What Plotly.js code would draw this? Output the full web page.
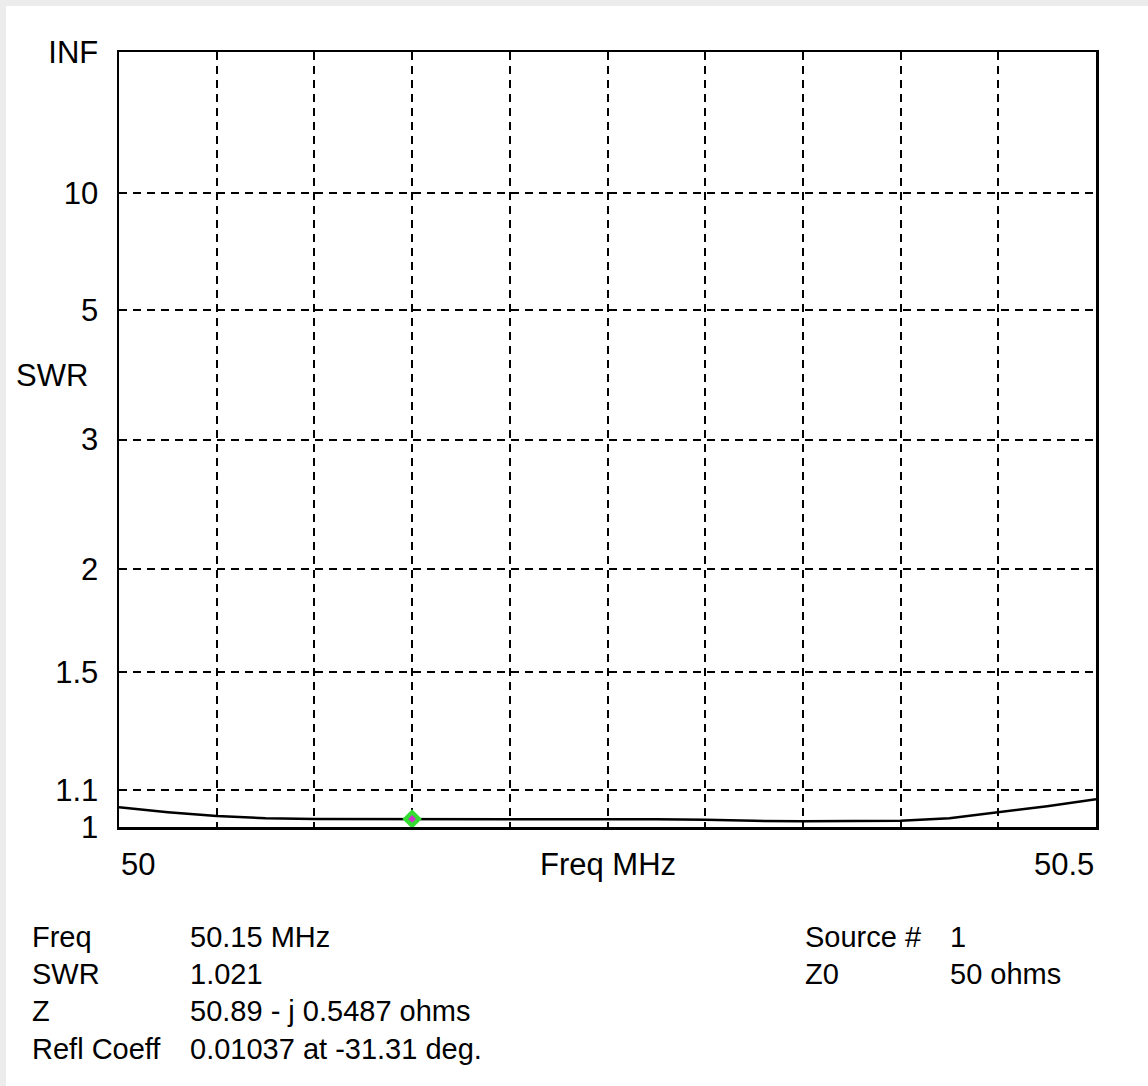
<!DOCTYPE html>
<html>
<head>
<meta charset="utf-8">
<script src="https://cdn.plot.ly/plotly-3.0.1.min.js"></script>
<style>
  html, body { margin: 0; padding: 0; background: #ffffff; }
  #chart { width: 1148px; height: 1086px; }
</style>
</head>
<body>
<div id="chart"></div>
<script>
// ---- data ----
const freqMHz = [50.000, 50.025, 50.050, 50.075, 50.100, 50.125, 50.150, 50.175, 50.200, 50.225, 50.250,
                 50.275, 50.300, 50.325, 50.350, 50.375, 50.400, 50.425, 50.450, 50.475, 50.500];
const swrValues = [1.052, 1.039, 1.029, 1.023, 1.021, 1.021, 1.021, 1.020, 1.020, 1.020, 1.020,
                   1.020, 1.019, 1.016, 1.015, 1.015, 1.016, 1.023, 1.038, 1.055, 1.074];
const swrTickLabels = ['1', '1.1', '1.5', '2', '3', '5', '10', 'INF'];
const swrTickValues = [1, 1.1, 1.5, 2, 3, 5, 10, Infinity];
const markerFreq = [50.15];
const markerSwr = [1.021];
const infoLeftLabels = ['Freq', 'SWR', 'Z', 'Refl Coeff'];
const infoLeftValues = ['50.15 MHz', '1.021', '50.89 - j 0.5487 ohms', '0.01037 at -31.31 deg.'];
const infoRightLabels = ['Source #', 'Z0'];
const infoRightValues = ['1', '50 ohms'];
const xEndLabels = ['50', '50.5'];
const xRange = [50, 50.5];

// SWR axis is linear in reflection coefficient magnitude
const toRho = s => (s === Infinity ? 1 : (s - 1) / (s + 1));

// ---- layout helpers (pixel -> paper) ----
const W = 1148, H = 1086;
const L = 119, R = 1096, T = 52, B = 827;
const px = x => (x - L) / (R - L);
const py = y => (B - y) / (B - T);

const axisFont = { family: 'Liberation Sans, Arial, sans-serif', size: 31, color: '#000000' };
const infoFont = { family: 'Liberation Sans, Arial, sans-serif', size: 29, color: '#000000' };

const annotations = [];
annotations.push({ x: xRange[0], y: py(864), xref: 'x', yref: 'paper', text: xEndLabels[0],
  showarrow: false, xanchor: 'left', yanchor: 'middle', font: axisFont });
annotations.push({ x: xRange[1], y: py(864), xref: 'x', yref: 'paper', text: xEndLabels[1],
  showarrow: false, xanchor: 'right', yanchor: 'middle', font: axisFont });
annotations.push({ x: 0.5, y: py(864), xref: 'paper', yref: 'paper', text: 'Freq MHz',
  showarrow: false, xanchor: 'center', yanchor: 'middle', font: axisFont });
annotations.push({ x: px(14), y: py(375), xref: 'paper', yref: 'paper', text: 'SWR',
  showarrow: false, xanchor: 'left', yanchor: 'middle', font: axisFont });
const rowY = [937, 974, 1011, 1049];
infoLeftLabels.forEach((t, i) => {
  annotations.push({ x: px(30), y: py(rowY[i]), xref: 'paper', yref: 'paper', text: t,
    showarrow: false, xanchor: 'left', yanchor: 'middle', font: infoFont });
  annotations.push({ x: px(188), y: py(rowY[i]), xref: 'paper', yref: 'paper', text: infoLeftValues[i],
    showarrow: false, xanchor: 'left', yanchor: 'middle', font: infoFont });
});
infoRightLabels.forEach((t, i) => {
  annotations.push({ x: px(803), y: py(rowY[i]), xref: 'paper', yref: 'paper', text: t,
    showarrow: false, xanchor: 'left', yanchor: 'middle', font: infoFont });
  annotations.push({ x: px(948), y: py(rowY[i]), xref: 'paper', yref: 'paper', text: infoRightValues[i],
    showarrow: false, xanchor: 'left', yanchor: 'middle', font: infoFont });
});

const shapes = [
  { type: 'rect', xref: 'paper', yref: 'paper', x0: px(0), x1: px(6), y0: py(H), y1: py(0),
    fillcolor: '#ececec', line: { width: 0 }, layer: 'below' },
  { type: 'rect', xref: 'paper', yref: 'paper', x0: px(0), x1: px(W), y0: py(6), y1: py(0),
    fillcolor: '#ececec', line: { width: 0 }, layer: 'below' }
];

const traces = [
  { x: freqMHz, y: swrValues.map(toRho), type: 'scatter', mode: 'lines',
    line: { color: '#000000', width: 2.5 }, hoverinfo: 'skip', showlegend: false },
  { x: markerFreq, y: markerSwr.map(toRho), type: 'scatter', mode: 'markers',
    marker: { symbol: 'diamond', size: 15, color: '#33dd33', line: { width: 0 } },
    hoverinfo: 'skip', showlegend: false },
  { x: markerFreq, y: markerSwr.map(toRho), type: 'scatter', mode: 'markers',
    marker: { symbol: 'diamond', size: 6, color: '#cc33cc', line: { width: 0 } },
    hoverinfo: 'skip', showlegend: false }
];

const layout = {
  width: W, height: H,
  margin: { l: L, r: W - R, t: T, b: H - B, pad: 0 },
  paper_bgcolor: '#ffffff', plot_bgcolor: '#ffffff',
  showlegend: false,
  xaxis: {
    range: xRange, dtick: 0.05, tick0: 50,
    showgrid: true, gridcolor: '#000000', gridwidth: 2, griddash: '8px,6px',
    zeroline: false, showticklabels: false, ticks: 'outside', ticklen: 0,
    showline: true, linecolor: '#000000', linewidth: 2.5, mirror: true, fixedrange: true
  },
  yaxis: {
    range: [0, 1], tickmode: 'array',
    tickvals: swrTickValues.map(toRho), ticktext: swrTickLabels,
    showgrid: true, gridcolor: '#000000', gridwidth: 2, griddash: '8px,6px',
    zeroline: false, ticks: '', ticklabelstandoff: 12, tickfont: axisFont,
    showline: true, linecolor: '#000000', linewidth: 2.5, mirror: true, fixedrange: true
  },
  annotations: annotations,
  shapes: shapes
};

Plotly.newPlot('chart', traces, layout, { displayModeBar: false, staticPlot: true });
</script>
</body>
</html>
